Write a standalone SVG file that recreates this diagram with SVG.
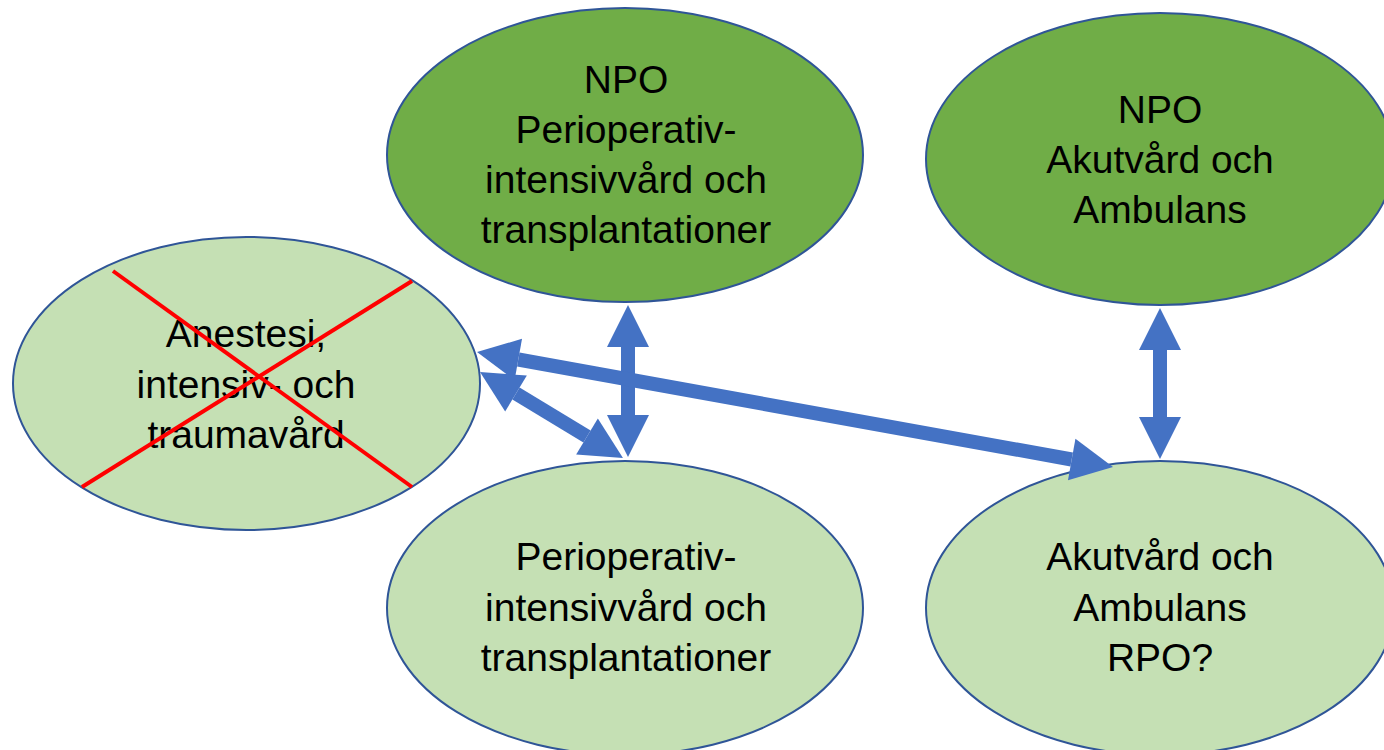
<svg xmlns="http://www.w3.org/2000/svg" width="1384" height="750" viewBox="0 0 1384 750">
<style>
  .dark { fill: #70AD47; stroke: #2F5597; stroke-width: 2; }
  .light { fill: #C5E0B4; stroke: #2F5597; stroke-width: 2; }
  .lbl { font-family: "Liberation Sans", Arial, sans-serif; font-size: 39px; fill: #000; text-anchor: middle; }
  .cross { stroke: #FF0000; stroke-width: 4; stroke-linecap: butt; }
  .conn { stroke: #4472C4; stroke-width: 14; stroke-linecap: butt; fill: none; marker-start: url(#head); marker-end: url(#head); }
</style>
<defs>
  <marker id="head" markerUnits="strokeWidth" markerWidth="3" markerHeight="3" viewBox="0 0 3 3" refX="0" refY="1.5" orient="auto-start-reverse" overflow="visible">
    <path d="M0,0 L3,1.5 L0,3 Z" fill="#4472C4"/>
  </marker>
</defs>
<rect width="1384" height="750" fill="#FFFFFF"/>
<g id="npo-perioperativ">
  <ellipse class="dark" cx="625" cy="155" rx="238" ry="147"/>
  <text class="lbl" x="626" y="93">NPO</text>
  <text class="lbl" x="626" y="143">Perioperativ-</text>
  <text class="lbl" x="626" y="193">intensivvård och</text>
  <text class="lbl" x="626" y="243">transplantationer</text>
</g>
<g id="npo-akutvard">
  <ellipse class="dark" cx="1160" cy="159" rx="234" ry="146"/>
  <text class="lbl" x="1160" y="123">NPO</text>
  <text class="lbl" x="1160" y="173">Akutvård och</text>
  <text class="lbl" x="1160" y="223">Ambulans</text>
</g>
<g id="anestesi">
  <ellipse class="light" cx="246.5" cy="383.5" rx="233.5" ry="146.5"/>
  <text class="lbl" x="246" y="347">Anestesi,</text>
  <text class="lbl" x="246" y="398">intensiv- och</text>
  <text class="lbl" x="246" y="448">traumavård</text>
  <line class="cross" x1="113" y1="271" x2="412" y2="487"/>
  <line class="cross" x1="412" y1="281" x2="82" y2="487"/>
</g>
<g id="perioperativ">
  <ellipse class="light" cx="625" cy="608" rx="238" ry="147"/>
  <text class="lbl" x="626" y="570">Perioperativ-</text>
  <text class="lbl" x="626" y="621">intensivvård och</text>
  <text class="lbl" x="626" y="671">transplantationer</text>
</g>
<g id="akutvard-rpo">
  <ellipse class="light" cx="1160" cy="608" rx="234" ry="147"/>
  <text class="lbl" x="1160" y="570">Akutvård och</text>
  <text class="lbl" x="1160" y="621">Ambulans</text>
  <text class="lbl" x="1160" y="671">RPO?</text>
</g>
<g id="connectors">
  <line class="conn" x1="628" y1="347" x2="628" y2="415"/>
  <line class="conn" x1="1160" y1="350" x2="1160" y2="417"/>
  <line class="conn" x1="518.3" y1="359.5" x2="1071.7" y2="459.5"/>
  <line class="conn" x1="516" y1="393.6" x2="587" y2="436.4"/>
</g>
</svg>
